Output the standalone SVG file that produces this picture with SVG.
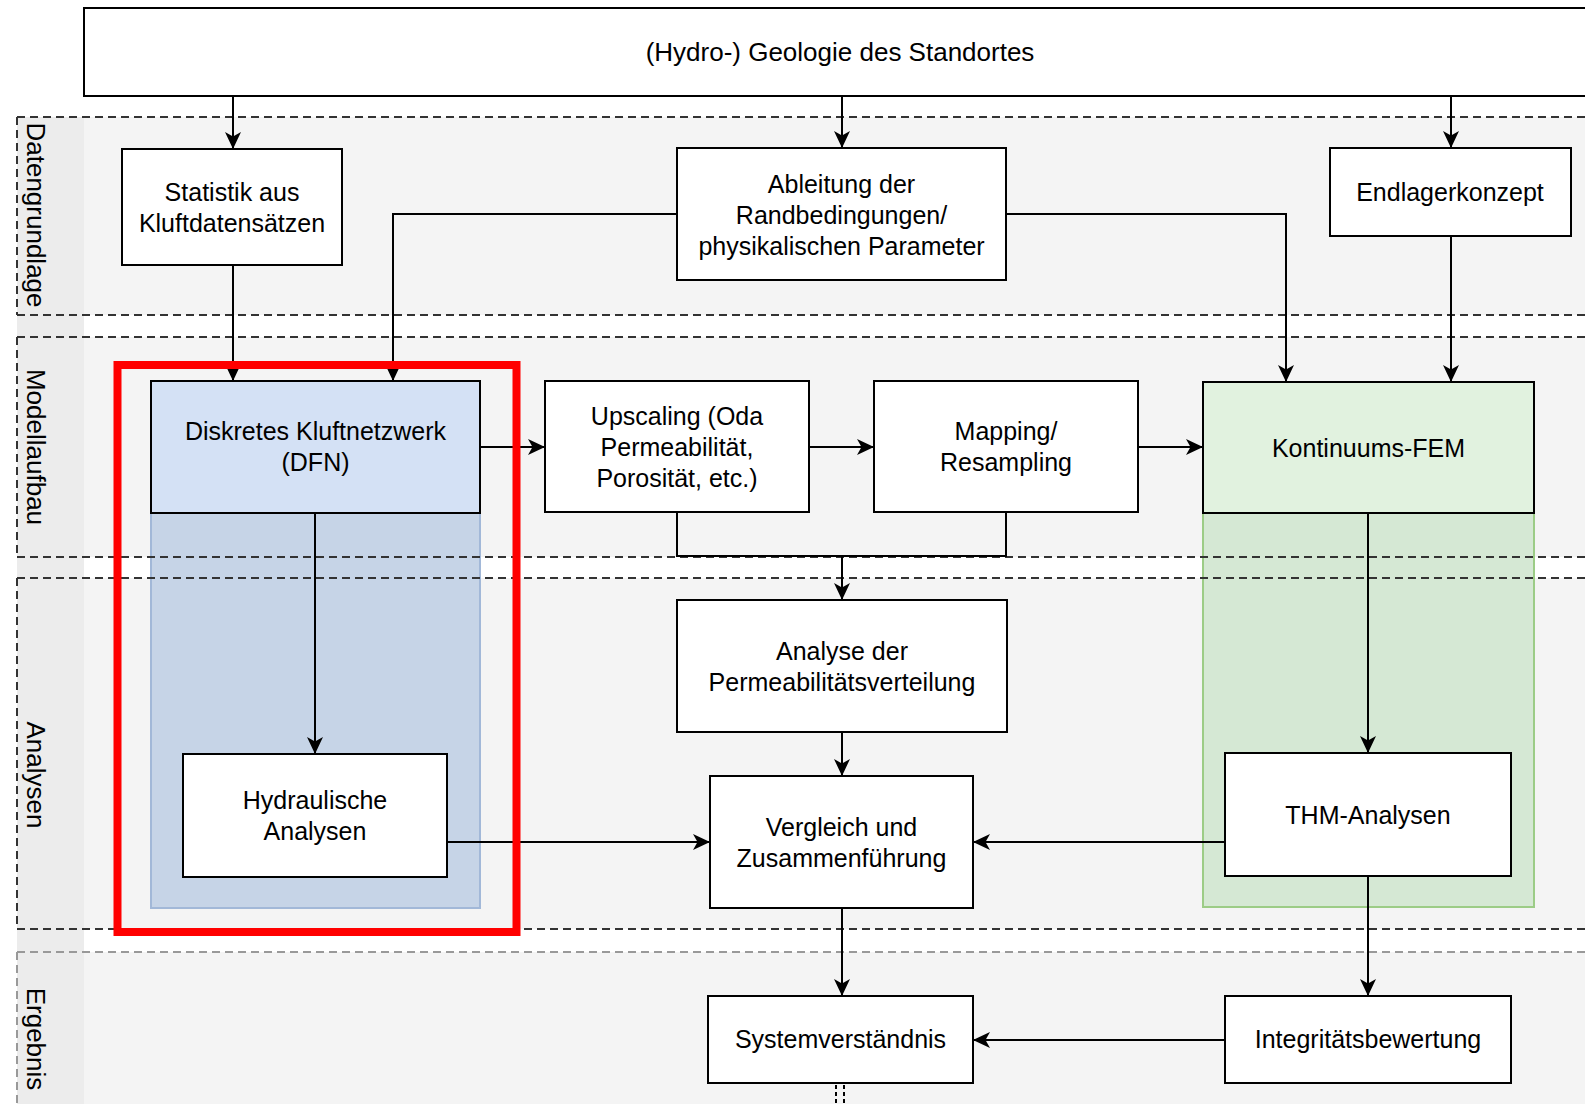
<svg xmlns="http://www.w3.org/2000/svg" width="1585" height="1104" viewBox="0 0 1585 1104">
<defs>
<style>
text{font-family:"Liberation Sans",Arial,sans-serif;font-size:25px;fill:#000;text-anchor:middle}
.lbl{font-size:26px}
.title{font-size:26px}
.node rect{fill:#fff;stroke:#000;stroke-width:2}
.lanebody{fill:#f4f4f4}
.dash{stroke:#333;stroke-width:2;stroke-dasharray:8 5;fill:none}
.dash2{stroke:#999;stroke-width:2;stroke-dasharray:8 5;fill:none}
.conn path{stroke:#000;stroke-width:2;fill:none}
.conn path.a{marker-end:url(#arrow)}
</style>
<marker id="arrow" viewBox="0 0 17 16" markerWidth="17" markerHeight="16" refX="17" refY="8" orient="auto" markerUnits="userSpaceOnUse"><path d="M0,0 L17,8 L0,16 L4.5,8 z" fill="#000"/></marker>
</defs>
<rect x="0" y="0" width="1585" height="1104" fill="#fff"/>
<g id="lanes">
<rect x="17" y="117" width="67" height="987" fill="#ececec"/>
<rect class="lanebody" x="84" y="117" width="1520" height="198"/>
<rect class="lanebody" x="84" y="337" width="1520" height="220"/>
<rect class="lanebody" x="84" y="578" width="1520" height="351"/>
<rect class="lanebody" x="84" y="952" width="1520" height="160"/>
</g>
<g id="containers">
<rect x="151" y="513" width="329" height="395" fill="#c6d4e7" stroke="#a2b8d8" stroke-width="2"/>
<rect x="1203" y="513" width="331" height="394" fill="#d5e8d4" stroke="#9ccc86" stroke-width="2"/>
</g>
<g id="lane-borders">
<path class="dash" d="M17,117 H1600 M17,315 H1600 M17,117 V315"/>
<path class="dash" d="M17,337 H1600 M17,557 H1600 M17,337 V557"/>
<path class="dash" d="M17,578 H1600 M17,929 H1600 M17,578 V929"/>
<path class="dash2" d="M17,952 H1600 M17,952 V1104"/>
</g>
<g id="lane-labels">
<text class="lbl" transform="translate(27,215) rotate(90)">Datengrundlage</text>
<text class="lbl" transform="translate(27,447) rotate(90)">Modellaufbau</text>
<text class="lbl" transform="translate(27,775) rotate(90)">Analysen</text>
<text class="lbl" transform="translate(27,1039) rotate(90)">Ergebnis</text>
</g>
<g id="connectors" class="conn">
<path class="a" d="M233,96 V149"/>
<path class="a" d="M842,96 V148"/>
<path class="a" d="M1451,96 V148"/>
<path class="a" d="M233,265 V381"/>
<path class="a" d="M677,214 H393 V381"/>
<path class="a" d="M1006,214 H1286 V382"/>
<path class="a" d="M1451,236 V382"/>
<path class="a" d="M480,447 H545"/>
<path class="a" d="M809,447 H874"/>
<path class="a" d="M1138,447 H1203"/>
<path d="M677,512 V556 H1006 V512"/>
<path class="a" d="M842,556 V600"/>
<path class="a" d="M315,513 V754"/>
<path class="a" d="M1368,513 V753"/>
<path class="a" d="M842,732 V776"/>
<path class="a" d="M447,842 H710"/>
<path class="a" d="M1225,842 H973"/>
<path class="a" d="M842,908 V996"/>
<path class="a" d="M1368,876 V996"/>
<path class="a" d="M1225,1040 H973"/>
<path d="M836,1085 V1104 M844,1085 V1104" stroke="#999" stroke-width="1.5" stroke-dasharray="4 3"/>
</g>
<g id="highlight">
<rect x="117.5" y="365" width="399" height="567" fill="none" stroke="#ff0000" stroke-width="8"/>
</g>
<g id="n-title" class="node"><rect x="84" y="8" width="1515" height="88"/><text class="title" x="840" y="61">(Hydro-) Geologie des Standortes</text></g>
<g id="n-statistik" class="node"><rect x="122" y="149" width="220" height="116"/><text x="232" y="201">Statistik aus</text><text x="232" y="232">Kluftdatensätzen</text></g>
<g id="n-ableitung" class="node"><rect x="677" y="148" width="329" height="132"/><text x="841.5" y="193">Ableitung der</text><text x="841.5" y="224">Randbedingungen/</text><text x="841.5" y="255">physikalischen Parameter</text></g>
<g id="n-endlager" class="node"><rect x="1330" y="148" width="241" height="88"/><text x="1450" y="201">Endlagerkonzept</text></g>
<g id="n-dfn" class="node"><rect x="151" y="381" width="329" height="132" style="fill:#d4e1f5"/><text x="315.5" y="440">Diskretes Kluftnetzwerk</text><text x="315.5" y="471">(DFN)</text></g>
<g id="n-upscaling" class="node"><rect x="545" y="381" width="264" height="131"/><text x="677" y="425">Upscaling (Oda</text><text x="677" y="456">Permeabilität,</text><text x="677" y="487">Porosität, etc.)</text></g>
<g id="n-mapping" class="node"><rect x="874" y="381" width="264" height="131"/><text x="1006" y="440">Mapping/</text><text x="1006" y="471">Resampling</text></g>
<g id="n-fem" class="node"><rect x="1203" y="382" width="331" height="131" style="fill:#e1f2df"/><text x="1368.5" y="457">Kontinuums-FEM</text></g>
<g id="n-analyse" class="node"><rect x="677" y="600" width="330" height="132"/><text x="842" y="660">Analyse der</text><text x="842" y="691">Permeabilitätsverteilung</text></g>
<g id="n-hydraulisch" class="node"><rect x="183" y="754" width="264" height="123"/><text x="315" y="809">Hydraulische</text><text x="315" y="840">Analysen</text></g>
<g id="n-vergleich" class="node"><rect x="710" y="776" width="263" height="132"/><text x="841.5" y="836">Vergleich und</text><text x="841.5" y="867">Zusammenführung</text></g>
<g id="n-thm" class="node"><rect x="1225" y="753" width="286" height="123"/><text x="1368" y="824">THM-Analysen</text></g>
<g id="n-system" class="node"><rect x="708" y="996" width="265" height="87"/><text x="840.5" y="1048">Systemverständnis</text></g>
<g id="n-integritaet" class="node"><rect x="1225" y="996" width="286" height="87"/><text x="1368" y="1048">Integritätsbewertung</text></g>
</svg>
